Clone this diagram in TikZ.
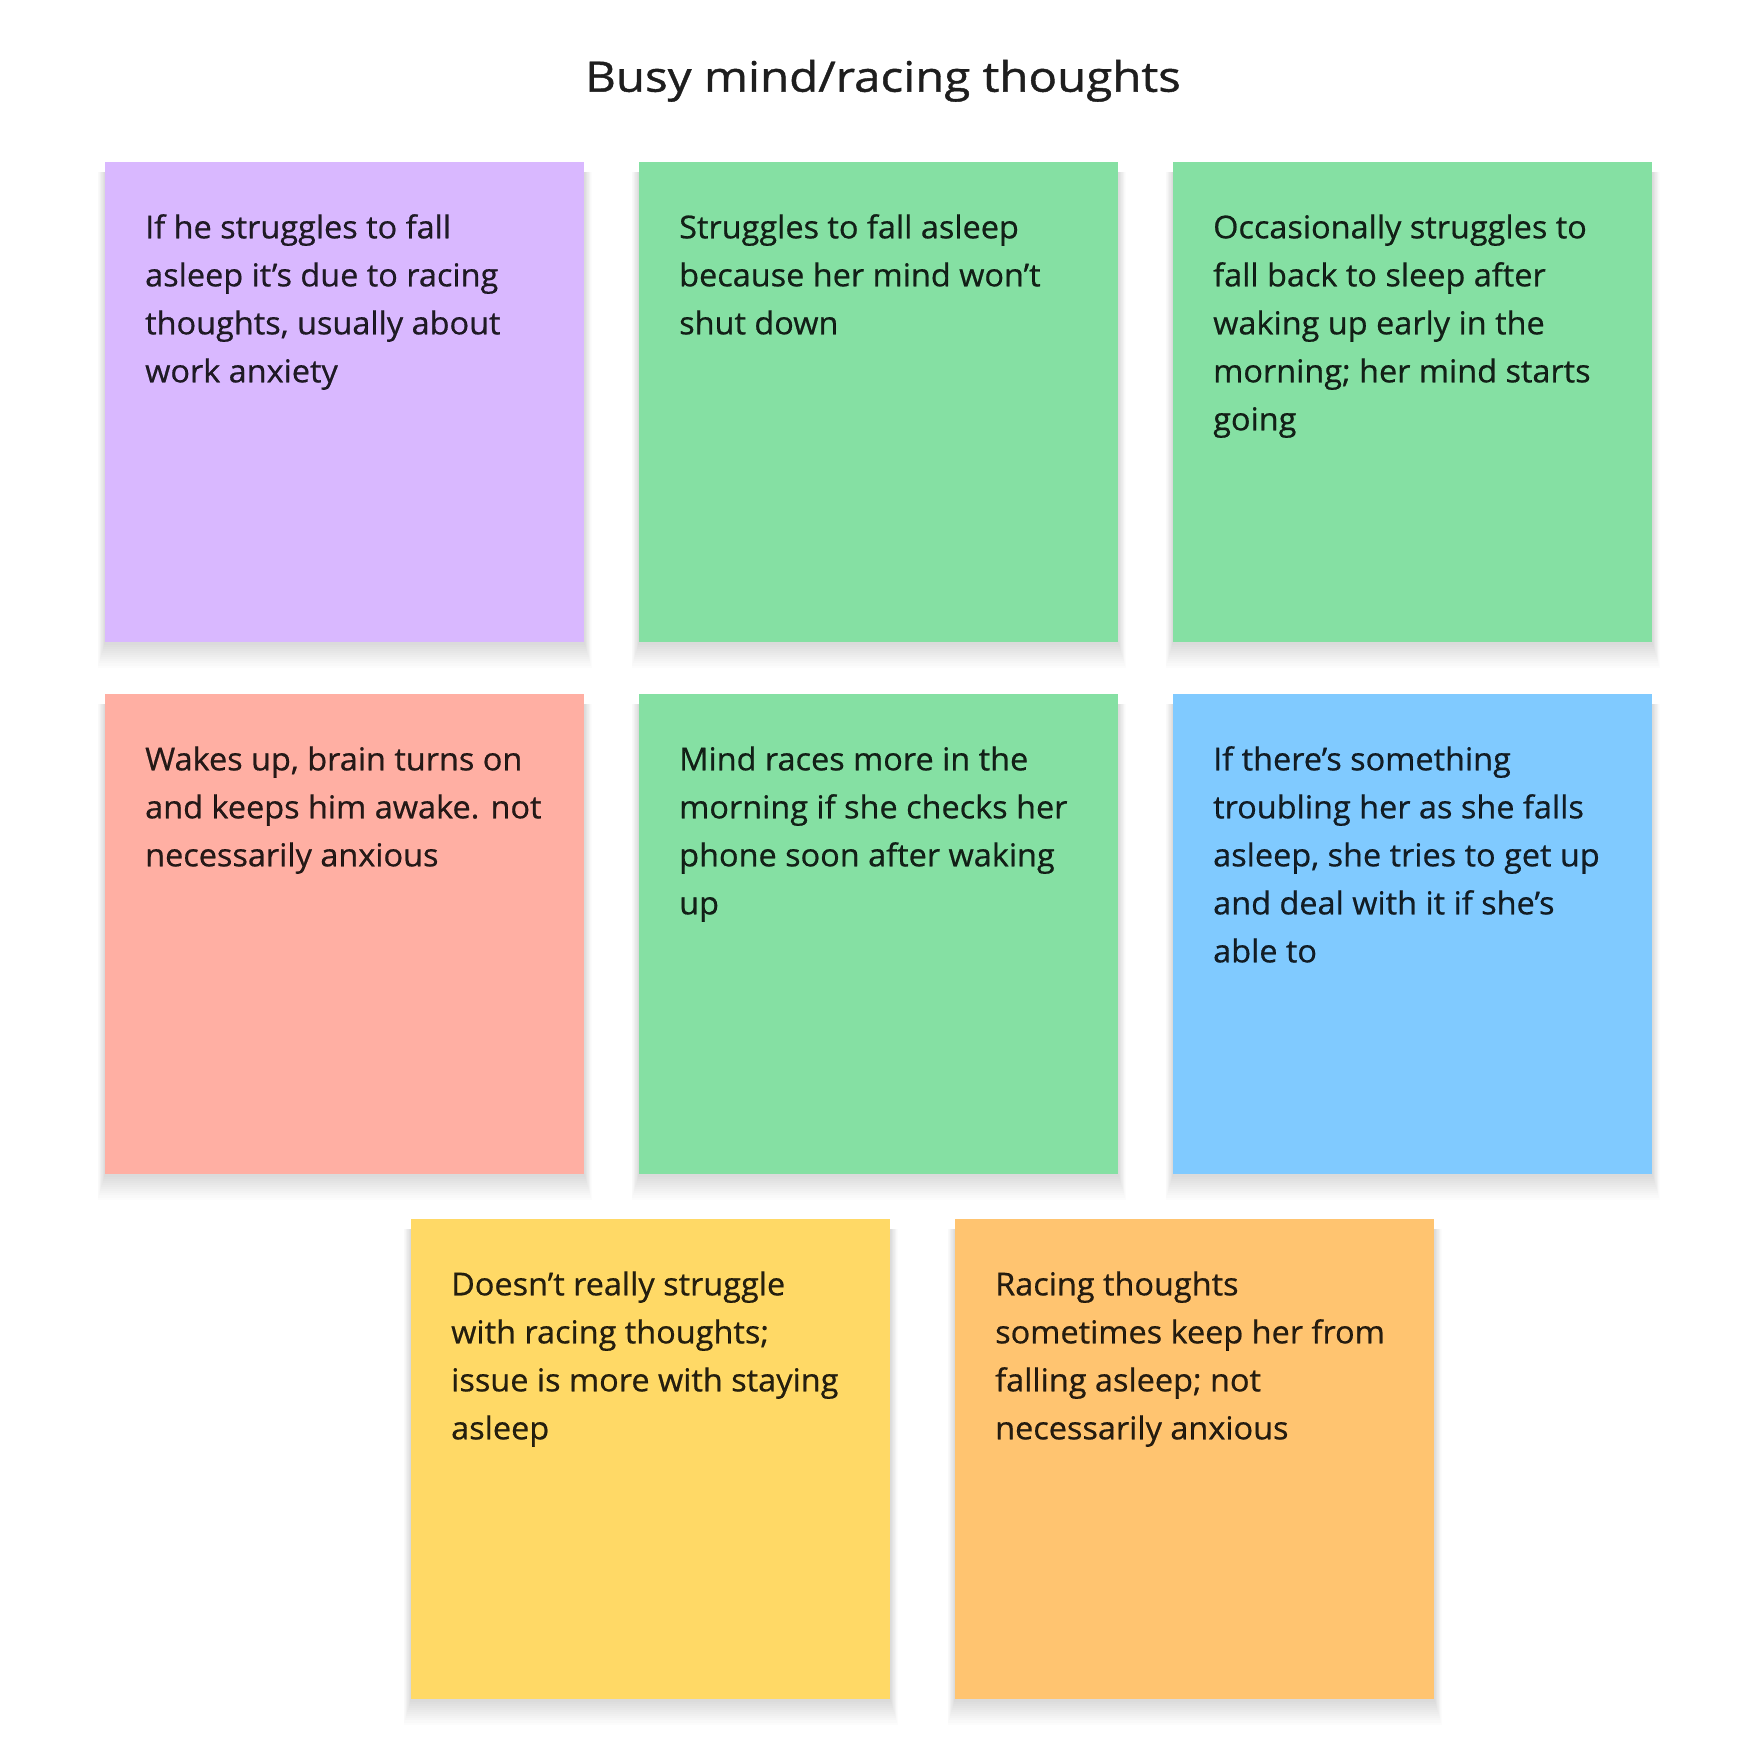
\documentclass[tikz,border=0pt]{standalone}
\usepackage{fontspec}
\setmainfont{Open Sans}[FakeStretch=1.03, FakeBold=0.6]
\newfontfamily\titlefont{Open Sans}[FakeStretch=1.13, FakeBold=1.0]
\usetikzlibrary{backgrounds}
\definecolor{cviolet}{HTML}{D9B8FF}
\definecolor{cgreen}{HTML}{85E0A3}
\definecolor{cred}{HTML}{FFAFA3}
\definecolor{cblue}{HTML}{80CAFF}
\definecolor{cyellow}{HTML}{FFD966}
\definecolor{corange}{HTML}{FFC470}
\definecolor{ctitle}{HTML}{1E1E1E}
\tikzset{
  sticky/.style={anchor=north west, minimum width=479pt, minimum height=480pt, inner sep=0pt, draw=none},
  notetext/.style={anchor=north west, inner sep=0pt, align=left, text=black, text opacity=0.85,
    font=\fontsize{31.5}{48}\selectfont},
  shadowlayer/.style={fill=black, opacity=0.012},
}
\newcommand{\stickyshadow}[1]{%
  \foreach \k in {1,...,12}{%
    \fill[shadowlayer] ([xshift=-\k*0.6pt, yshift=-10pt]#1.north west) rectangle ([xshift=\k*0.6pt, yshift=-\k*2.1pt]#1.south east);
  }%
}
\begin{document}
\begin{tikzpicture}[x=1pt,y=-1pt]
\node[anchor=base, inner sep=0pt, text=ctitle, font=\titlefont\fontsize{42}{48}\selectfont] (title) at (883,91.7) {Busy mind/racing thoughts};

\node[sticky, fill=cviolet] (n1) at (105,162) {};
\node[sticky, fill=cgreen] (n2) at (639,162) {};
\node[sticky, fill=cgreen] (n3) at (1173,162) {};
\node[sticky, fill=cred] (n4) at (105,694) {};
\node[sticky, fill=cgreen] (n5) at (639,694) {};
\node[sticky, fill=cblue] (n6) at (1173,694) {};
\node[sticky, fill=cyellow] (n7) at (411,1219) {};
\node[sticky, fill=corange] (n8) at (955,1219) {};

\node[notetext] (t1) at ([shift={(40,42.5)}]n1.north west) {\strut If he struggles to fall\\asleep it’s due to racing\\thoughts, usually about\\work anxiety};
\node[notetext] (t2) at ([shift={(40,42.5)}]n2.north west) {\strut Struggles to fall asleep\\because her mind won’t\\shut down};
\node[notetext] (t3) at ([shift={(40,42.5)}]n3.north west) {\strut Occasionally struggles to\\fall back to sleep after\\waking up early in the\\morning; her mind starts\\going};
\node[notetext] (t4) at ([shift={(40,42.5)}]n4.north west) {\strut Wakes up, brain turns on\\and keeps him awake. not\\necessarily anxious};
\node[notetext] (t5) at ([shift={(40,42.5)}]n5.north west) {\strut Mind races more in the\\morning if she checks her\\phone soon after waking\\up};
\node[notetext] (t6) at ([shift={(40,42.5)}]n6.north west) {\strut If there’s something\\troubling her as she falls\\asleep, she tries to get up\\and deal with it if she’s\\able to};
\node[notetext] (t7) at ([shift={(40,42.5)}]n7.north west) {\strut Doesn’t really struggle\\with racing thoughts;\\issue is more with staying\\asleep};
\node[notetext] (t8) at ([shift={(40,42.5)}]n8.north west) {\strut Racing thoughts\\sometimes keep her from\\falling asleep; not\\necessarily anxious};

\begin{scope}[on background layer]
\fill[white] (0,0) rectangle (1754,1755);
\stickyshadow{n1}\stickyshadow{n2}\stickyshadow{n3}\stickyshadow{n4}
\stickyshadow{n5}\stickyshadow{n6}\stickyshadow{n7}\stickyshadow{n8}
\end{scope}
\useasboundingbox (0,0) rectangle (1754,1755);
\end{tikzpicture}
\end{document}
